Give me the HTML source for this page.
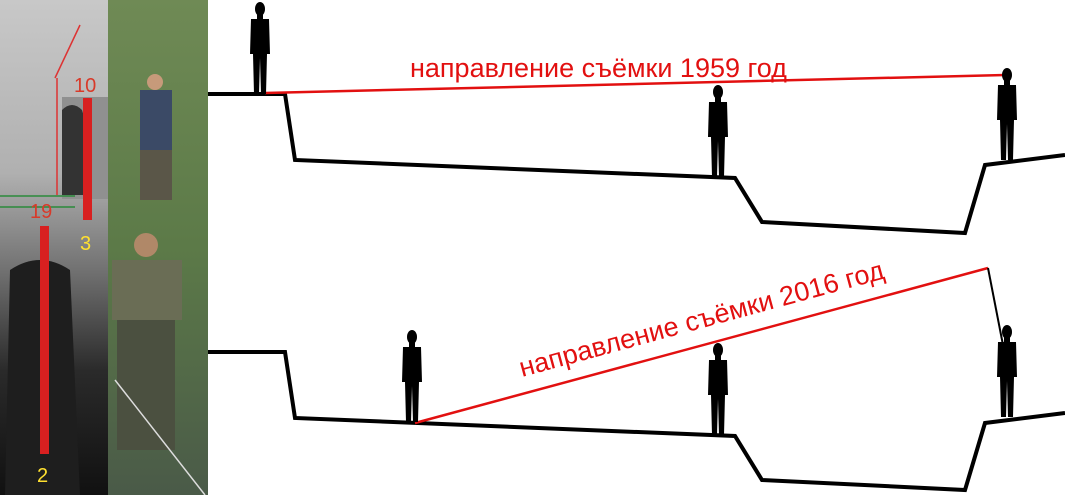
<!DOCTYPE html>
<html><head><meta charset="utf-8"><style>
html,body{margin:0;padding:0;background:#fff;width:1065px;height:495px;overflow:hidden}
svg{display:block}
text{font-family:"Liberation Sans",sans-serif}
</style></head><body>
<svg width="1065" height="495" viewBox="0 0 1065 495" xmlns="http://www.w3.org/2000/svg">
<defs>
<linearGradient id="bw" x1="0" y1="0" x2="0" y2="1">
<stop offset="0" stop-color="#c8c8c8"/><stop offset="0.35" stop-color="#b0b0b0"/><stop offset="0.55" stop-color="#707070"/><stop offset="0.75" stop-color="#2a2a2a"/><stop offset="1" stop-color="#111"/>
</linearGradient>
<linearGradient id="gr" x1="0" y1="0" x2="0" y2="1">
<stop offset="0" stop-color="#6f8a55"/><stop offset="0.5" stop-color="#5c7a48"/><stop offset="1" stop-color="#4a5a48"/>
</linearGradient>
<g id="man">
<ellipse cx="0" cy="7" rx="5" ry="7"/>
<rect x="-3" y="12" width="6" height="5"/>
<path d="M-9,17 L9,17 L10,52 L7,52 L6,92 L1,92 L0,56 L-1,92 L-6,92 L-7,52 L-10,52 Z"/>
</g>
</defs>
<rect x="0" y="0" width="108" height="495" fill="url(#bw)"/>
<rect x="62" y="97" width="46" height="102" fill="#909090"/>
<path d="M62,110 q10,-10 20,0 l6,20 l0,65 l-26,0z" fill="#333"/>
<path d="M10,270 q30,-20 60,0 l10,225 l-75,0z" fill="#1e1e1e"/>
<rect x="108" y="0" width="100" height="495" fill="url(#gr)"/>
<path d="M140,90 h32 v60 h-32z" fill="#3b4a66"/>
<circle cx="155" cy="82" r="8" fill="#c79a7a"/>
<path d="M140,150 h32 v50 h-32z" fill="#5a5648"/>
<circle cx="146" cy="245" r="12" fill="#b08868"/>
<path d="M112,260 h70 v60 h-70z" fill="#6a6d55"/>
<path d="M117,320 h58 v130 h-58z" fill="#4b5040"/>
<line x1="0" y1="196" x2="75" y2="196" stroke="#2a8a3a" stroke-width="1.5"/>
<line x1="0" y1="207" x2="75" y2="207" stroke="#2a8a3a" stroke-width="1.5"/>
<line x1="55" y1="78" x2="80" y2="25" stroke="#d33" stroke-width="1.5"/>
<line x1="57" y1="78" x2="57" y2="195" stroke="#d33" stroke-width="1.5"/>
<rect x="83" y="98" width="9" height="122" fill="#d82020"/>
<rect x="40" y="226" width="9" height="228" fill="#d82020"/>
<text x="74" y="92" font-size="20" fill="#d83a2a">10</text>
<text x="30" y="218" font-size="20" fill="#d83a2a">19</text>
<text x="80" y="250" font-size="20" fill="#ffe030">3</text>
<text x="37" y="482" font-size="20" fill="#ffe030">2</text>
<line x1="115" y1="380" x2="205" y2="495" stroke="#ddd" stroke-width="1.5"/>

<polyline points="208,94 285,94 295,160 735,178 762,222 965,233 985,165 1065,155" fill="none" stroke="#000" stroke-width="4" stroke-linejoin="miter"/>
<polyline points="208,352 285,352 295,418 735,436 762,480 965,490 985,423 1065,413" fill="none" stroke="#000" stroke-width="4"/>
<line x1="265" y1="93" x2="1005" y2="75" stroke="#e21010" stroke-width="2.5"/>
<line x1="415" y1="423" x2="988" y2="268" stroke="#e21010" stroke-width="2.5"/>
<line x1="988" y1="268" x2="1003" y2="345" stroke="#000" stroke-width="2"/>
<use href="#man" x="260" y="2"/>
<use href="#man" x="718" y="85"/>
<use href="#man" x="1007" y="68"/>
<use href="#man" x="412" y="330"/>
<use href="#man" x="718" y="343"/>
<use href="#man" x="1007" y="325"/>
<text x="410" y="77" font-size="27" fill="#e21010">направление съёмки 1959 год</text>
<text transform="translate(522,377) rotate(-15.2)" font-size="27" fill="#e21010">направление съёмки 2016 год</text>
</svg>
</body></html>
